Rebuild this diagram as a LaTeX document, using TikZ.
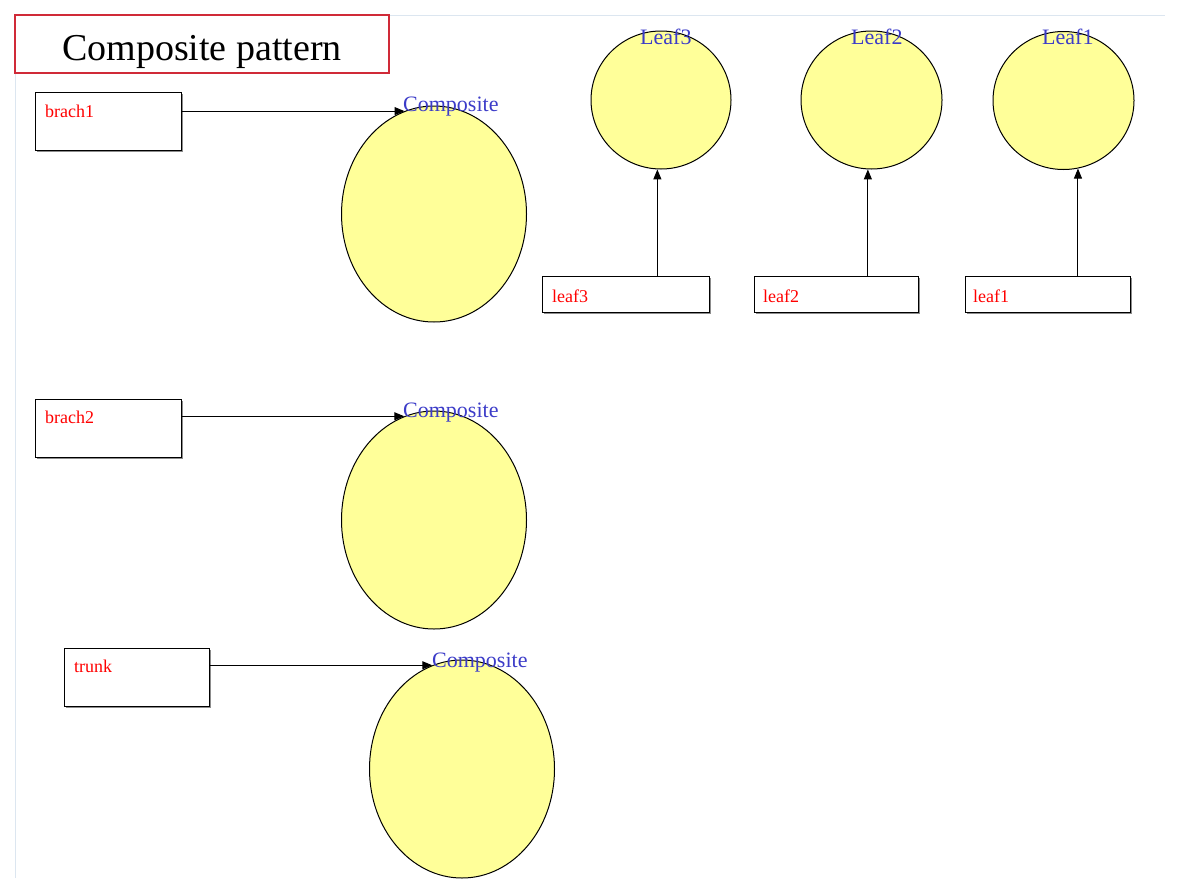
\documentclass[tikz,border=0pt]{standalone}
\usepackage{fontspec}
\setmainfont{Liberation Serif}
\usetikzlibrary{shapes.geometric,arrows.meta,shadows}
\definecolor{ellfill}{HTML}{FFFF99}
\definecolor{lblblue}{HTML}{3C3CC8}
\definecolor{titlered}{HTML}{D02A38}
\definecolor{framecol}{HTML}{DCE6F0}
\begin{document}
\begin{tikzpicture}[x=1pt,y=-1pt,
  ell/.style={ellipse,draw=black,fill=ellfill,line width=1pt,inner sep=0pt},
  box/.style={draw=black,line width=1.1pt,fill=white,inner sep=0pt,anchor=north west,
    drop shadow={shadow xshift=1.3pt,shadow yshift=-1.3pt,fill=gray!90,opacity=1}},
  boxtxt/.style={text=red,font=\fontsize{18}{18}\selectfont,anchor=base west,inner sep=0pt},
  lbl/.style={text=lblblue,font=\fontsize{22}{22}\selectfont,anchor=base west,inner sep=0pt},
  arr/.style={draw=black,line width=1pt,-{Triangle[length=10pt,width=8pt]}},
]
\useasboundingbox (0,0) rectangle (1182,894);
% faint frame
\draw[framecol,line width=0.8pt] (389,15) -- (1165,15);
\draw[framecol,line width=0.8pt] (15,73) -- (15,878);
% title
\node[anchor=north west,inner sep=0pt,minimum width=374pt,minimum height=58pt] (title) at (15,15) {};
\draw[titlered,line width=2pt] (title.north west) rectangle (title.south east);
\node[anchor=base,inner sep=0pt,font=\fontsize{38}{38}\selectfont] (titletxt) at (202,60) {Composite pattern};

% composites
\node[ell,minimum width=185pt,minimum height=216pt] (c1) at (434,214) {};
\node[ell,minimum width=185pt,minimum height=218pt] (c2) at (434,520) {};
\node[ell,minimum width=185pt,minimum height=218pt] (c3) at (462,769) {};
\node[lbl] (c1l) at (403,111) {Composite};
\node[lbl] (c2l) at (403,417) {Composite};
\node[lbl] (c3l) at (432,667) {Composite};

% leaves
\node[ell,minimum width=140pt,minimum height=138pt] (L3) at (661,100) {};
\node[ell,minimum width=141pt,minimum height=138pt] (L2) at (871.5,100) {};
\node[ell,minimum width=141pt,minimum height=138pt] (L1) at (1063.5,100.5) {};
\node[lbl] (L3l) at (640,44) {Leaf3};
\node[lbl] (L2l) at (851,44) {Leaf2};
\node[lbl] (L1l) at (1042,44) {Leaf1};

% boxes
\node[box,minimum width=146pt,minimum height=58pt] (b1) at (35,92) {};
\node[box,minimum width=146pt,minimum height=58pt] (b2) at (35,399) {};
\node[box,minimum width=145pt,minimum height=58pt] (tr) at (64,648) {};
\node[boxtxt] (b1t) at (45,117) {brach1};
\node[boxtxt] (b2t) at (45,423) {brach2};
\node[boxtxt] (trt) at (74,672) {trunk};

\node[box,minimum width=167pt,minimum height=36pt] (l3) at (542,276) {};
\node[box,minimum width=164pt,minimum height=36pt] (l2) at (754,276) {};
\node[box,minimum width=165pt,minimum height=36pt] (l1) at (965,276) {};
\node[boxtxt] (l3t) at (552,302) {leaf3};
\node[boxtxt] (l2t) at (763,302) {leaf2};
\node[boxtxt] (l1t) at (973,302) {leaf1};

% connectors
\draw[arr] (b1.east |- c1.106) -- (c1.106);
\draw[arr] (b2.east |- c2.106) -- (c2.106);
\draw[arr] (tr.east |- c3.106) -- (c3.106);
\draw[arr] (l3.north -| L3.267.5) -- (L3.267.5);
\draw[arr] (l2.north -| L2.267) -- (L2.267);
\draw[arr] (l1.north -| L1.282) -- (L1.282);
\end{tikzpicture}
\end{document}
